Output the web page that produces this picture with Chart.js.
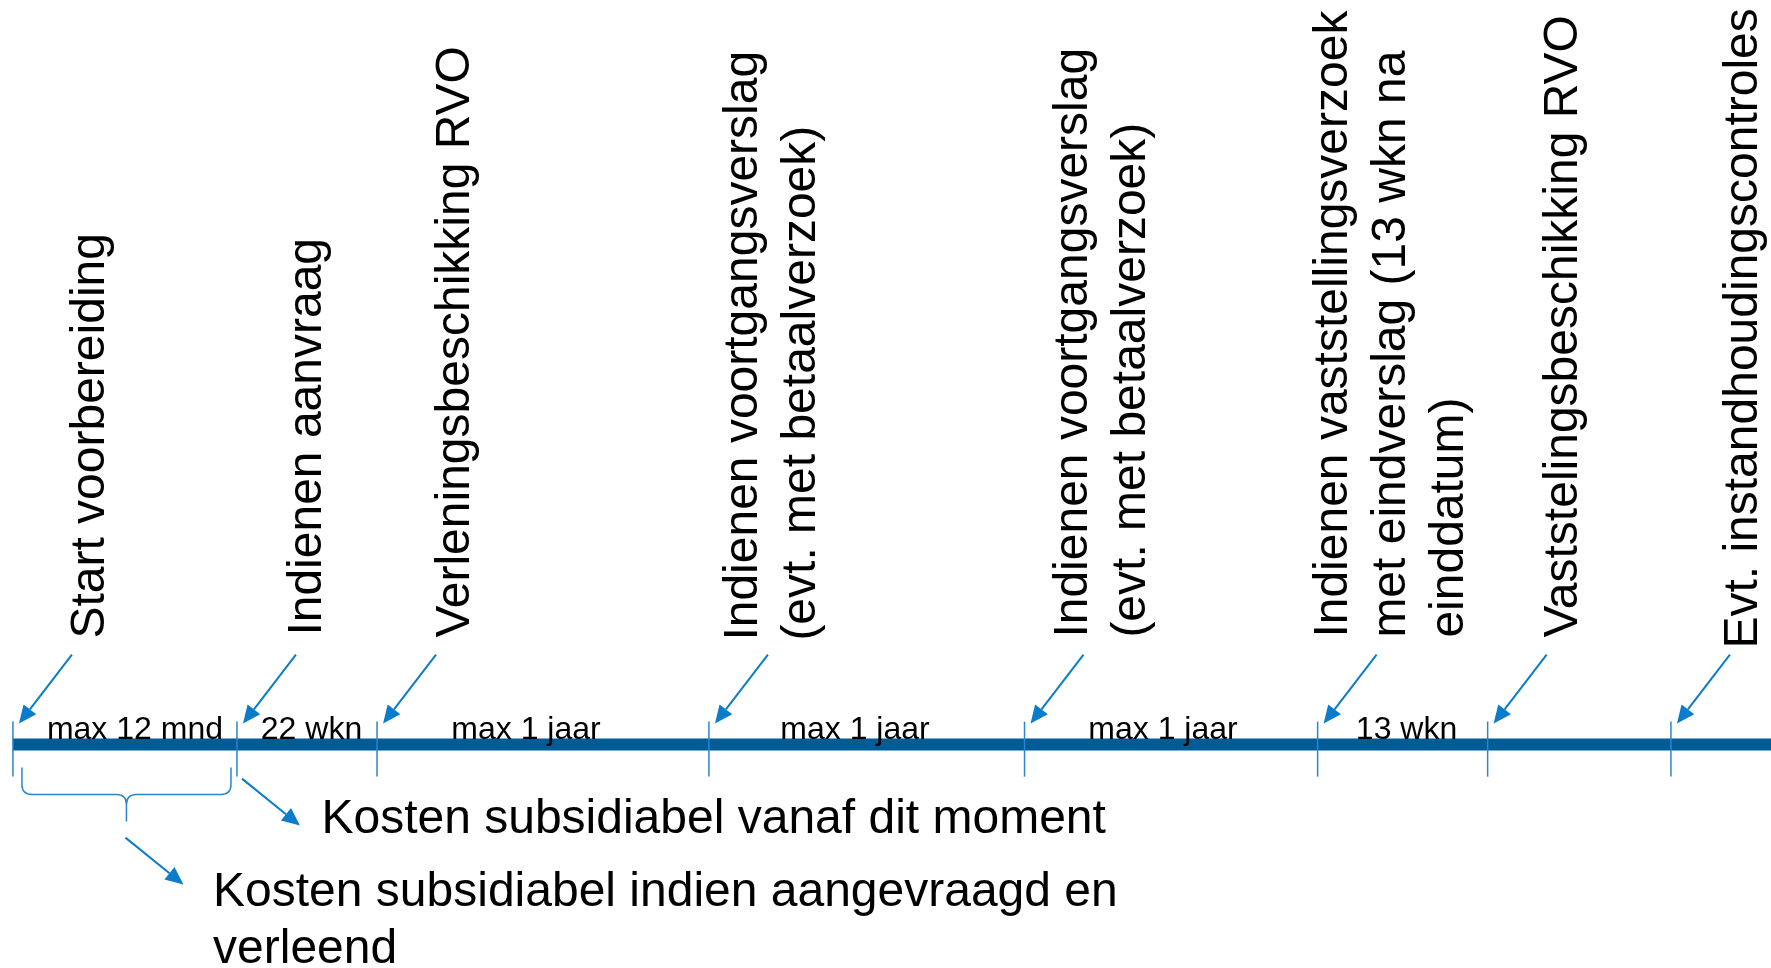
<!DOCTYPE html>
<html>
<head>
<meta charset="utf-8">
<script src="https://cdn.jsdelivr.net/npm/chart.js@4/dist/chart.umd.min.js"></script>
<style>
  html, body { margin: 0; padding: 0; background: #fff; }
  #timeline { display: block; }
</style>
</head>
<body>
<canvas id="timeline" width="1771" height="968"></canvas>
<script>
// milestones on the timeline, position in % of the width
const milestoneLabels = [
  ["Start voorbereiding"],
  ["Indienen aanvraag"],
  ["Verleningsbeschikking RVO"],
  ["Indienen voortgangsverslag", "(evt. met betaalverzoek)"],
  ["Indienen voortgangsverslag", "(evt. met betaalverzoek)"],
  ["Indienen vaststellingsverzoek", "met eindverslag (13 wkn na", "einddatum)"],
  ["Vaststelingsbeschikking RVO"],
  ["Evt. instandhoudingscontroles"]
];
const milestonePos = [0.73, 13.38, 21.29, 40.03, 57.85, 74.40, 84.00, 94.35];

// periods between milestones
const periodLabels = ["max 12 mnd", "22 wkn", "max 1 jaar", "max 1 jaar", "max 1 jaar", "13 wkn"];
const periodPos = [7.62, 17.59, 29.70, 48.28, 65.67, 79.42];

// notes under the timeline
const noteLabels = [
  ["Kosten subsidiabel vanaf dit moment"],
  ["Kosten subsidiabel indien aangevraagd en", "verleend"]
];

/* ===============================
   LAYOUT (not data)
================================ */
const labelPos = [5.87, 18.13, 26.48, 42.74, 61.38, 76.06, 89.05, 99.21];
const labelLift = [106, 109, 107, 104, 107, 107, 107, 96];
const notePos = [18.15, 12.03];
const noteDrop = [88, 161];

const LINE_BLUE = "#005c96";
const TICK_BLUE = "#2a85cb";
const ARROW_BLUE = "#0a7cc9";
const FONT = "'Liberation Sans', Arial, sans-serif";

function arrow(ctx, x1, y1, x2, y2) {
  const a = Math.atan2(y2 - y1, x2 - x1);
  const len = 18, half = 8;
  const bx = x2 - len * Math.cos(a), by = y2 - len * Math.sin(a);
  ctx.beginPath();
  ctx.moveTo(x1, y1);
  ctx.lineTo(bx, by);
  ctx.stroke();
  ctx.beginPath();
  ctx.moveTo(x2, y2);
  ctx.lineTo(bx + half * Math.sin(a), by - half * Math.cos(a));
  ctx.lineTo(bx - half * Math.sin(a), by + half * Math.cos(a));
  ctx.closePath();
  ctx.fill();
}

const timelineDecor = {
  id: "timelineDecor",
  afterDatasetsDraw(chart) {
    const { ctx, scales: { x, y } } = chart;
    const lineY = y.getPixelForValue(0);
    const ticksX = milestonePos.map(p => x.getPixelForValue(p));
    ctx.save();

    // tick marks
    ctx.strokeStyle = TICK_BLUE;
    ctx.lineWidth = 1.5;
    ticksX.forEach(px => {
      ctx.beginPath();
      ctx.moveTo(px, lineY - 23);
      ctx.lineTo(px, lineY + 32);
      ctx.stroke();
    });

    // period labels
    ctx.fillStyle = "#000";
    ctx.font = "32px " + FONT;
    ctx.textAlign = "center";
    ctx.textBaseline = "alphabetic";
    periodLabels.forEach((t, i) => {
      ctx.fillText(t, x.getPixelForValue(periodPos[i]), lineY - 6);
    });

    // rotated milestone labels
    ctx.font = "48px " + FONT;
    ctx.textAlign = "left";
    milestoneLabels.forEach((lines, i) => {
      ctx.save();
      ctx.translate(x.getPixelForValue(labelPos[i]), lineY - labelLift[i]);
      ctx.rotate(-Math.PI / 2);
      lines.forEach((t, k) => ctx.fillText(t, 0, k * 58));
      ctx.restore();
    });

    // arrows pointing at the ticks
    ctx.strokeStyle = ARROW_BLUE;
    ctx.fillStyle = ARROW_BLUE;
    ctx.lineWidth = 2;
    ticksX.forEach(px => {
      const tx = px + 6, ty = lineY - 21;
      arrow(ctx, tx + 53, ty - 69, tx, ty);
    });

    // brace under the first period
    const left = ticksX[0] + 9, right = ticksX[1] - 6;
    const mid = (left + right) / 2;
    const top = lineY + 23, bar = lineY + 50, tip = lineY + 77;
    ctx.strokeStyle = TICK_BLUE;
    ctx.lineWidth = 1.5;
    ctx.beginPath();
    ctx.moveTo(left, top);
    ctx.lineTo(left, bar - 10);
    ctx.quadraticCurveTo(left, bar, left + 10, bar);
    ctx.lineTo(mid - 10, bar);
    ctx.quadraticCurveTo(mid, bar, mid, bar + 10);
    ctx.lineTo(mid, tip);
    ctx.moveTo(mid, bar + 10);
    ctx.quadraticCurveTo(mid, bar, mid + 10, bar);
    ctx.lineTo(right - 10, bar);
    ctx.quadraticCurveTo(right, bar, right, bar - 10);
    ctx.lineTo(right, top);
    ctx.stroke();

    // arrows to the notes
    ctx.strokeStyle = ARROW_BLUE;
    ctx.lineWidth = 2;
    arrow(ctx, ticksX[1] + 5, lineY + 34, ticksX[1] + 63, lineY + 81);
    arrow(ctx, mid - 1, lineY + 93, mid + 57, lineY + 140);

    // notes
    ctx.fillStyle = "#000";
    ctx.font = "48px " + FONT;
    noteLabels.forEach((lines, i) => {
      lines.forEach((t, k) => {
        ctx.fillText(t, x.getPixelForValue(notePos[i]), lineY + noteDrop[i] + k * 57.6);
      });
    });

    ctx.restore();
  }
};

new Chart(document.getElementById("timeline"), {
  type: "line",
  data: {
    datasets: [{
      label: "Tijdlijn",
      data: [{ x: milestonePos[0], y: 0 }, { x: 100, y: 0 }],
      borderColor: LINE_BLUE,
      borderWidth: 12,
      borderCapStyle: "butt",
      pointRadius: 0,
      fill: false
    }]
  },
  options: {
    responsive: false,
    animation: false,
    devicePixelRatio: 1,
    layout: { padding: 0 },
    scales: {
      x: { type: "linear", min: 0, max: 100, display: false },
      y: { type: "linear", min: -30, max: 100, display: false }
    },
    plugins: {
      legend: { display: false },
      tooltip: { enabled: false }
    }
  },
  plugins: [timelineDecor]
});
</script>
</body>
</html>
